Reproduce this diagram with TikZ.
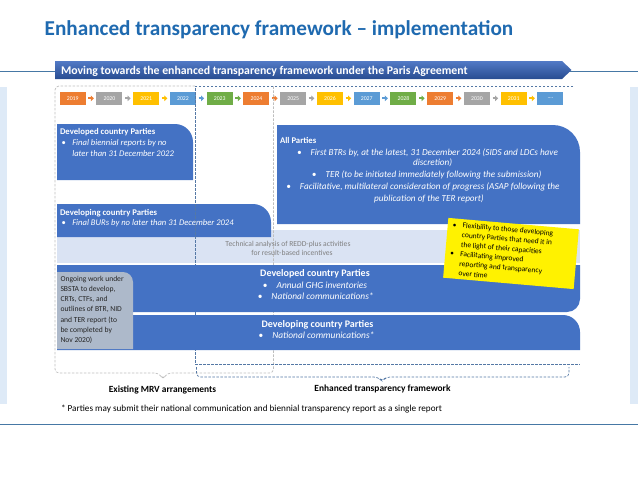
\documentclass[tikz,border=0pt]{standalone}
\usepackage{fontspec}
\setmainfont{Carlito}
\usetikzlibrary{arrows.meta}
\definecolor{titleblue}{RGB}{31,106,176}
\definecolor{boxblue}{RGB}{68,114,196}
\definecolor{bandblue}{RGB}{218,227,243}
\definecolor{stripblue}{RGB}{222,234,247}
\definecolor{lineblue}{RGB}{70,120,165}
\definecolor{yorange}{RGB}{237,125,49}
\definecolor{ygray}{RGB}{165,165,165}
\definecolor{ygold}{RGB}{255,192,0}
\definecolor{yblue}{RGB}{91,155,213}
\definecolor{ygreen}{RGB}{112,173,71}
\definecolor{graybox}{RGB}{173,185,202}
\definecolor{dashgray}{RGB}{190,190,190}
\definecolor{dashblue}{RGB}{84,120,165}
\definecolor{bandtext}{RGB}{128,128,128}
\definecolor{bannertop}{RGB}{82,122,198}
\definecolor{bannerbot}{RGB}{40,76,145}
\begin{document}
\begin{tikzpicture}[x=1pt,y=-1pt,
  every node/.style={inner sep=0pt, outer sep=0pt},
  wtxt/.style={text=white, font=\fontsize{8.6}{10}\selectfont},
  wbold/.style={text=white, font=\bfseries\fontsize{8.7}{10}\selectfont},
  witalic/.style={text=white, font=\itshape\fontsize{8.6}{10}\selectfont},
  apitalic/.style={text=white, font=\itshape\fontsize{9.2}{11}\selectfont},
  lowbold/.style={text=white, font=\bfseries\fontsize{10}{12}\selectfont},
  lowitalic/.style={text=white, font=\itshape\fontsize{9.4}{11}\selectfont},
  yearbox/.style={minimum width=26pt, minimum height=12.5pt, text=white, font=\fontsize{5.8}{6}\selectfont},
  yarrow/.style={draw=#1, line width=2.2pt, -{Triangle[length=3pt,width=5.5pt]}, shorten <=2.6pt, shorten >=2.6pt},
  graydash/.style={draw=dashgray, line width=0.7pt, dash pattern=on 2.5pt off 1.5pt},
  bluedash/.style={draw=dashblue, line width=0.7pt, dash pattern=on 2.5pt off 1.5pt},
  notebox/.style={fill=yellow, rotate=-5, minimum width=131pt, minimum height=60pt},
  notetxt/.style={rotate=-5, anchor=north west, align=left, inner xsep=5pt, inner ysep=3.5pt, font=\fontsize{7.5}{9.6}\selectfont, text=black},
  graytxt/.style={anchor=base west, text={black!85}, font=\fontsize{7.6}{8}\selectfont},
  bandtxt/.style={anchor=base, text=bandtext, font=\fontsize{7.6}{8}\selectfont},
  lbl/.style={anchor=base, text=black, font=\bfseries\fontsize{9.4}{11}\selectfont}
]
\useasboundingbox (0,0) rectangle (638,479);
\fill[white] (0,0) rectangle (638,479);

% side strips and rules
\fill[stripblue] (0,87) rectangle (7,404);
\fill[stripblue] (630,87) rectangle (638,404);
\draw[lineblue, line width=0.8pt] (0,71) -- (638,71);
\draw[lineblue, line width=0.8pt] (0,424) -- (638,424);

% title
\node[anchor=base west, text=titleblue, font=\bfseries\fontsize{21.2}{25}\selectfont] (title) at (44.7,35.2) {Enhanced transparency framework -- implementation};

% banner
\shade[top color=bannertop, bottom color=bannerbot] (55,61) -- (562,61) -- (571.5,70) -- (562,79) -- (55,79) -- cycle;
\node[anchor=base west, text=white, font=\bfseries\fontsize{11.8}{13}\selectfont] (banner) at (61,74) {Moving towards the enhanced transparency framework under the Paris Agreement};

% year row
\foreach \yr/\col [count=\i from 0] in {2019/yorange,2020/ygray,2021/ygold,2022/yblue,2023/ygreen,2024/yorange,2025/ygray,2026/ygold,2027/yblue,2028/ygreen,2029/yorange,2030/ygray,2031/ygold,{....}/yblue}
  \node[yearbox, fill=\col] (yr\i) at ({72.7+36.75*\i},98.3) {\yr};
\foreach \col [count=\i from 0] in {yorange,ygray,ygold,yblue,ygreen,yorange,ygray,ygold,yblue,ygreen,yorange,ygray,ygold}{
  \pgfmathtruncatemacro\j{\i+1}
  \draw[yarrow=\col] (yr\i.east) -- (yr\j.west);
}

% upper blue boxes
\fill[boxblue] (57,180) -- (57,124) -- (175,124) arc[start angle=270, end angle=360, radius=18] -- (193,180) -- cycle;
\fill[bandblue] (57,230) rectangle (580,263);
\fill[boxblue] (57,237) -- (57,204) -- (253,204) arc[start angle=270, end angle=360, radius=18] -- (271,237) -- cycle;
\fill[boxblue] (277,224) -- (277,125) -- (553,125) arc[start angle=270, end angle=360, radius=27] -- (580,224) -- cycle;

% dashed framework outlines and braces
\draw[graydash, rounded corners=4pt] (195,86) -- (55,86) -- (55,373) -- (159,373) -- (163,379.5) -- (167,373) -- (273.5,373) -- (273.5,86);
\draw[bluedash] (573,86) -- (195,86) -- (195,364) -- (580,364);
\draw[bluedash, rounded corners=4pt] (196.5,367) -- (196.5,377) -- (378,377) -- (382,381.5) -- (386,377) -- (569,377) -- (569,367);

% lower blue boxes
\fill[boxblue] (57,265) -- (580,265) -- (580,299) arc[start angle=0, end angle=90, radius=13] -- (57,312) -- cycle;
\fill[boxblue] (57,350) -- (57,315) -- (563,315) arc[start angle=270, end angle=360, radius=17] -- (580,350) -- cycle;
\fill[graybox] (57,349) -- (57,272) -- (123,272) arc[start angle=270, end angle=360, radius=10] -- (133,282) -- (133,349) -- cycle;

% texts of upper-left boxes
\node[wbold, anchor=base west] (b1t) at (60,134.8) {Developed country Parties};
\node[wtxt, anchor=base west] (b1b) at (61.7,145.8) {•};
\node[witalic, anchor=base west] (b1l1) at (72.3,145.8) {Final biennial reports by no};
\node[witalic, anchor=base west] (b1l2) at (72.3,156.8) {later than 31 December 2022};
\node[wbold, anchor=base west] (b2t) at (60,215.8) {Developing country Parties};
\node[wtxt, anchor=base west] (b2b) at (61.7,225.8) {•};
\node[witalic, anchor=base west] (b2l1) at (72.3,225.8) {Final BURs by no later than 31 December 2024};

% All Parties
\node[wbold, anchor=base west] (apt) at (280,143.4) {All Parties};
\node[apitalic, anchor=base] (ap1) at (427.5,155.2) {•\hspace{9pt}First BTRs by, at the latest, 31 December 2024 (SIDS and LDCs have};
\node[apitalic, anchor=base] (ap2) at (432.6,165.6) {discretion)};
\node[apitalic, anchor=base] (ap3) at (426.7,177.2) {•\hspace{9pt}TER (to be initiated immediately following the submission)};
\node[apitalic, anchor=base] (ap4) at (423,189.6) {•\hspace{9pt}Facilitative, multilateral consideration of progress (ASAP following the};
\node[apitalic, anchor=base] (ap5) at (429,201.9) {publication of the TER report)};

% band text
\node[bandtxt] (band1) at (288,246.6) {Technical analysis of REDD-plus activities};
\node[bandtxt] (band2) at (292,255.6) {for result-based incentives};

% lower boxes text
\node[lowbold, anchor=base] (b5t) at (315,276) {Developed country Parties};
\node[lowitalic, anchor=base] (b5l1) at (315,288.2) {\upshape•\hspace{9pt}\itshape Annual GHG inventories};
\node[lowitalic, anchor=base] (b5l2) at (315.7,299.2) {\upshape•\hspace{9pt}\itshape National communications*};
\node[lowbold, anchor=base] (b6t) at (317.5,327.6) {Developing country Parties};
\node[lowitalic, anchor=base] (b6l1) at (316.5,338.9) {\upshape•\hspace{9pt}\itshape National communications*};

% gray box text
\foreach \ln [count=\k from 0] in {Ongoing work under,{SBSTA to develop,},{CRTs, CTFs, and},{outlines of BTR, NID},and TER report (to,be completed by,Nov 2020)}
  \node[graytxt] (gl\k) at (60.5,{281.6+10.1*\k}) {\ln};

% yellow note
\node[notebox] (note) at (511,253.5) {};
\node[notetxt] (notetext) at (note.north west) {\makebox[10pt][l]{•}Flexibility to those developing\\
\hspace*{10pt}country Parties that need it in\\
\hspace*{10pt}the light of their capacities\\
\makebox[10pt][l]{•}Facilitating improved\\
\hspace*{10pt}reporting and transparency\\
\hspace*{10pt}over time};

% brace labels and footnote
\node[lbl] (mrv) at (162.5,392) {Existing MRV arrangements};
\node[lbl] (etf) at (382.5,391) {Enhanced transparency framework};
\node[anchor=base west, text=black, font=\fontsize{9.2}{11}\selectfont] (foot) at (61,411.5) {* Parties may submit their national communication and biennial transparency report as a single report};
\end{tikzpicture}
\end{document}
